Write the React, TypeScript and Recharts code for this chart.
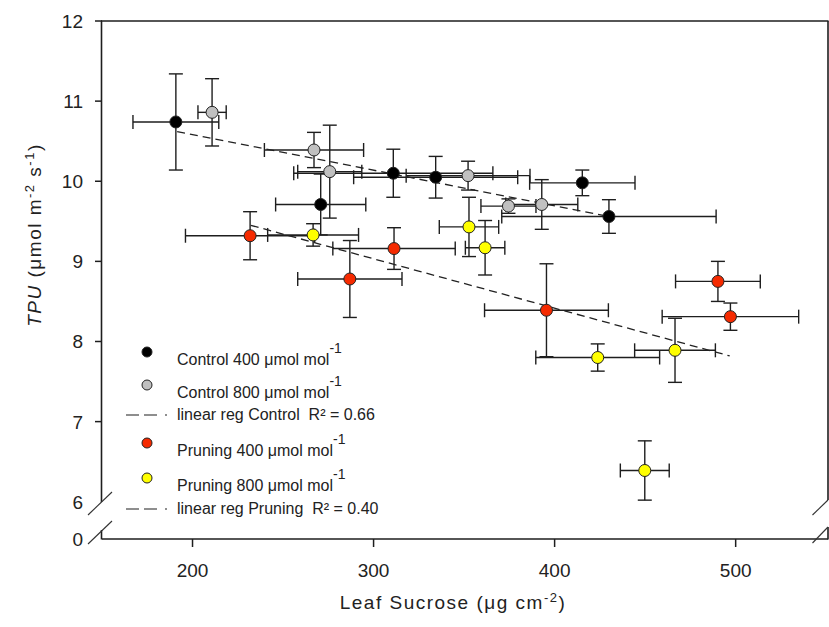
import React from "react";
import { ScatterChart, Scatter, XAxis, YAxis, ErrorBar } from "recharts";

const FONT = "'Liberation Sans', Arial, sans-serif";
const INK = "#1e1e1e";

// the y axis is broken below 6: "0" is drawn at this position
const ZERO_POS = 5.535;

// Control 400 µmol mol-1
const c400X = [190.8, 270.8, 310.9, 334.3, 415.3, 430.0];
const c400Y = [10.74, 9.71, 10.1, 10.05, 9.98, 9.56];
const c400Ex = [23.7, 24.9, 55.0, 45.3, 29.1, 59.2];
const c400Ey = [0.6, 0.38, 0.3, 0.26, 0.16, 0.21];

// Control 800 µmol mol-1
const c800X = [210.8, 267.1, 275.8, 352.2, 392.9, 374.5];
const c800Y = [10.86, 10.39, 10.12, 10.07, 9.71, 9.69];
const c800Ex = [7.8, 27.4, 17.7, 34.2, 19.9, 15.2];
const c800Ey = [0.42, 0.22, 0.58, 0.18, 0.31, 0.09];

// Pruning 400 µmol mol-1
const p400X = [231.8, 311.3, 286.9, 395.5, 490.2, 497.1];
const p400Y = [9.32, 9.16, 8.78, 8.39, 8.75, 8.31];
const p400Ex = [35.7, 33.8, 28.8, 34.2, 23.4, 37.7];
const p400Ey = [0.3, 0.26, 0.48, 0.58, 0.25, 0.17];

// Pruning 800 µmol mol-1
const p800X = [266.6, 352.7, 361.6, 423.8, 466.5, 449.8];
const p800Y = [9.33, 9.43, 9.17, 7.8, 7.89, 6.39];
const p800Ex = [25.1, 16.4, 10.9, 34.2, 22.3, 13.5];
const p800Ey = [0.14, 0.37, 0.34, 0.17, 0.4, 0.37];

// regression line end points
const ctrlRegX = [191.5, 430.0];
const ctrlRegY = [10.62, 9.56];
const prunRegX = [232.2, 496.7];
const prunRegY = [9.45, 7.82];

const xTicks = [200, 300, 400, 500];
const yTicks = [ZERO_POS, 6, 7, 8, 9, 10, 11, 12];

const toPoints = (xs: number[], ys: number[], exs?: number[], eys?: number[]) =>
  xs.map((x, i) => ({ x, y: ys[i], ex: exs ? exs[i] : 0, ey: eys ? eys[i] : 0 }));

const c400 = toPoints(c400X, c400Y, c400Ex, c400Ey);
const c800 = toPoints(c800X, c800Y, c800Ex, c800Ey);
const p400 = toPoints(p400X, p400Y, p400Ex, p400Ey);
const p800 = toPoints(p800X, p800Y, p800Ex, p800Ey);
const ctrlReg = toPoints(ctrlRegX, ctrlRegY);
const prunReg = toPoints(prunRegX, prunRegY);

const dot = (fill: string) => (p: any) =>
  <circle cx={p.cx} cy={p.cy} r={6} fill={fill} stroke="#222" strokeWidth={1} />;

function XTick(props: any) {
  const { x, y, payload } = props;
  return (
    <g>
      <line x1={x} y1={y} x2={x} y2={y + 8} stroke={INK} strokeWidth={1.5} />
      <text x={x} y={y + 38} textAnchor="middle" fontSize={19} fill="#222" fontFamily={FONT}>
        {payload.value}
      </text>
    </g>
  );
}

function YTick(props: any) {
  const { x, y, payload } = props;
  const v = payload.value;
  const onBreak = v < 6.5;
  return (
    <g>
      {!onBreak && <line x1={x - 7} y1={y} x2={x} y2={y} stroke={INK} strokeWidth={1.5} />}
      <text x={x - 19} y={y + 7} textAnchor="end" fontSize={19} fill="#222" fontFamily={FONT}>
        {v === ZERO_POS ? "0" : v}
      </text>
    </g>
  );
}

function LegendRow(props: { y: number; fill?: string; label: string; sup?: boolean }) {
  const { y, fill, label, sup } = props;
  return (
    <g>
      {fill ? (
        <circle cx={147} cy={y - 13} r={5} fill={fill} stroke="#222" strokeWidth={1} />
      ) : (
        <line x1={126} y1={y - 5} x2={167} y2={y - 5} stroke={INK} strokeWidth={1.2} strokeDasharray="13 5 13 8 2" />
      )}
      <text x={177} y={y} fontSize={16} fill="#222" fontFamily={FONT} style={{ whiteSpace: "pre" }}>
        {label}
        {sup && <tspan dy={-12} fontSize={14}>-1</tspan>}
      </text>
    </g>
  );
}

function Overlay() {
  const s = { stroke: INK, strokeWidth: 1.6 };
  const d = { stroke: "#333", strokeWidth: 1.1 };
  return (
    <svg width={829} height={627} style={{ position: "absolute", left: 0, top: 0, pointerEvents: "none" }}>
      {/* frame with axis breaks */}
      <line x1={101.5} y1={21} x2={101.5} y2={502} {...s} />
      <line x1={101.5} y1={530} x2={101.5} y2={539.5} {...s} />
      <line x1={101} y1={21} x2={828.5} y2={21} {...s} />
      <line x1={828} y1={21} x2={828} y2={500} {...s} />
      <line x1={828} y1={527} x2={828} y2={539.5} {...s} />
      <line x1={88} y1={515} x2={112} y2={492} {...d} />
      <line x1={88} y1={544} x2={112} y2={521} {...d} />
      <line x1={812.5} y1={515} x2={828} y2={500} {...d} />
      <line x1={812.5} y1={543} x2={828} y2={527} {...d} />

      {/* axis titles */}
      <text x={453} y={609} textAnchor="middle" fontSize={19} letterSpacing={1.5} fill="#222" fontFamily={FONT}>
        Leaf Sucrose (μg cm<tspan dy={-7} fontSize={13}>-2</tspan>
        <tspan dy={7}>)</tspan>
      </text>
      <text transform="translate(41,235) rotate(-90)" textAnchor="middle" fontSize={19} letterSpacing={1.5} fill="#222" fontFamily={FONT}>
        <tspan fontStyle="italic">TPU</tspan> (μmol m<tspan dy={-7} fontSize={13}>-2</tspan>
        <tspan dy={7}> s</tspan>
        <tspan dy={-7} fontSize={13}>-1</tspan>
        <tspan dy={7}>)</tspan>
      </text>

      {/* legend */}
      <LegendRow y={365} fill="#000000" label="Control 400 μmol mol" sup />
      <LegendRow y={398} fill="#c0c0c0" label="Control 800 μmol mol" sup />
      <LegendRow y={420} label={"linear reg Control\u00a0\u00a0R² = 0.66"} />
      <LegendRow y={456} fill="#f52a00" label="Pruning 400 μmol mol" sup />
      <LegendRow y={491} fill="#ffff00" label="Pruning 800 μmol mol" sup />
      <LegendRow y={514} label={"linear reg Pruning\u00a0\u00a0R² = 0.40"} />
    </svg>
  );
}

const bars = [
  <ErrorBar key="ex" dataKey="ex" direction="x" width={7} stroke={INK} strokeWidth={1.4} />,
  <ErrorBar key="ey" dataKey="ey" direction="y" width={7} stroke={INK} strokeWidth={1.4} />,
];

export default function App() {
  const regLine = { stroke: "#222", strokeWidth: 1.3, strokeDasharray: "8 5" };
  return (
    <div style={{ position: "fixed", left: 0, top: 0, width: 829, height: 627, background: "#fff" }}>
      <ScatterChart width={829} height={627} margin={{ top: 21, right: 1, bottom: 58, left: 42 }}>
        <XAxis
          type="number"
          dataKey="x"
          domain={[150, 551]}
          allowDataOverflow
          ticks={xTicks}
          height={30}
          tickSize={0}
          tickMargin={0}
          tick={<XTick />}
          axisLine={{ stroke: INK, strokeWidth: 1.6 }}
        />
        <YAxis
          type="number"
          dataKey="y"
          domain={[ZERO_POS, 12]}
          allowDataOverflow
          ticks={yTicks}
          width={60}
          tickSize={0}
          tickMargin={0}
          tick={<YTick />}
          axisLine={false}
        />
        <Scatter data={ctrlReg} line={regLine} shape={() => <g />} isAnimationActive={false} />
        <Scatter data={prunReg} line={regLine} shape={() => <g />} isAnimationActive={false} />
        <Scatter data={c400} shape={dot("#000000")} isAnimationActive={false}>{bars}</Scatter>
        <Scatter data={c800} shape={dot("#c0c0c0")} isAnimationActive={false}>{bars}</Scatter>
        <Scatter data={p400} shape={dot("#f52a00")} isAnimationActive={false}>{bars}</Scatter>
        <Scatter data={p800} shape={dot("#ffff00")} isAnimationActive={false}>{bars}</Scatter>
      </ScatterChart>
      <Overlay />
    </div>
  );
}
